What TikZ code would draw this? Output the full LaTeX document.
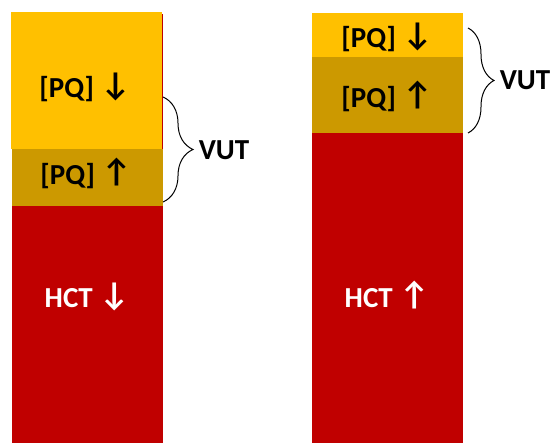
\documentclass[tikz,border=0pt]{standalone}
\usepackage{fontspec}
\setmainfont{Carlito}
\usetikzlibrary{decorations.pathreplacing}
\definecolor{ylw}{RGB}{255,192,0}
\definecolor{gld}{RGB}{204,153,0}
\definecolor{rd}{RGB}{192,0,0}
\newcommand{\dnarr}{\raisebox{2.5pt}{\fontsize{33}{33}\selectfont ↓}}
\newcommand{\uparr}{\raisebox{2.5pt}{\fontsize{33}{33}\selectfont ↑}}
\tikzset{
  lbl/.style={anchor=base, inner sep=0pt, font=\bfseries\fontsize{29}{34}\selectfont},
  wlbl/.style={lbl, text=white},
  brc/.style={draw=black, line width=1pt, decorate, decoration={brace, amplitude=#1}},
}
\begin{document}
\begin{tikzpicture}[x=1pt,y=1pt]
\useasboundingbox (0,0) rectangle (553,443);
% left bar
\fill[rd] (12,0) rectangle (163.3,429);
\fill[ylw] (11,294) rectangle (162,431);
\fill[gld] (12,237.3) rectangle (162.7,294);
% right bar
\fill[rd] (312,0) rectangle (463,309.7);
\fill[gld] (312,309.7) rectangle (462.7,385.7);
\fill[ylw] (312,385.7) rectangle (462.7,430.3);
% labels
\node[lbl] (lpqd) at (85,345) {[PQ] \dnarr};
\node[lbl] (lpqu) at (86,258) {[PQ] \uparr};
\node[wlbl] (lhct) at (87,135) {HCT \dnarr};
\node[lbl] (rpqd) at (387,395) {[PQ] \dnarr};
\node[lbl] (rpqu) at (387,335) {[PQ] \uparr};
\node[wlbl] (rhct) at (387,135) {HCT \uparr};
\node[lbl] (lvut) at (224,283) {VUT};
\node[lbl] (rvut) at (525,353) {VUT};
% braces
\draw[brc=30pt] (163,346) -- (163,241);
\draw[brc=26pt] (468,415) -- (468,310);
\end{tikzpicture}
\end{document}
